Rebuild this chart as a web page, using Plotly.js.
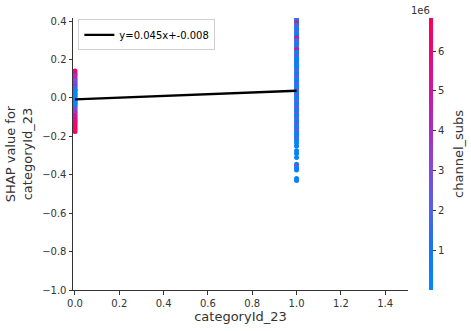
<!DOCTYPE html>
<html>
<head>
<meta charset="utf-8">
<script src="https://cdn.plot.ly/plotly-3.0.1.min.js"></script>
<style>html,body{margin:0;padding:0;background:#fff;}#chart{width:471px;height:331px;}</style>
</head>
<body>
<div id="chart"></div>
<script>
// Feature value 0 group
var shapAt0 = [0.14, 0.13, 0.122, 0.115, 0.105, 0.098, 0.09, 0.082, 0.075, 0.068, 0.06, 0.052, 0.045, 0.038, 0.03, 0.022, 0.015, 0.008, 0.0, -0.008, -0.015, -0.022, -0.03, -0.038, -0.045, -0.052, -0.06, -0.068, -0.075, -0.082, -0.09, -0.098, -0.105, -0.112, -0.12, -0.128, -0.136, -0.145, -0.155, -0.165, -0.175, 0.02, -0.01, 0.04, -0.03];
var subsAt0 = [6.5e6, 6.0e6, 5.5e6, 4.2e6, 3.5e6, 5.0e6, 3.0e6, 2.5e6, 3.8e6, 2.0e6, 4.5e6, 1.5e6, 2.8e6, 1.0e6, 0.5e6, 1.8e6, 0.3e6, 0.2e6, 0.1e6, 0.4e6, 0.2e6, 0.8e6, 1.2e6, 0.5e6, 2.2e6, 1.5e6, 3.2e6, 2.6e6, 4.0e6, 3.5e6, 4.8e6, 5.5e6, 4.5e6, 6.0e6, 5.2e6, 6.3e6, 5.8e6, 6.6e6, 6.2e6, 6.83e6, 6.4e6, 0.1e6, 0.2e6, 0.3e6, 0.15e6];
// Feature value 1 group
var shapAt1 = [0.42, 0.41, 0.40, 0.39, 0.38, 0.37, 0.36, 0.35, 0.34, 0.33, 0.32, 0.31, 0.30, 0.29, 0.28, 0.27, 0.26, 0.25, 0.24, 0.23, 0.22, 0.21, 0.20, 0.19, 0.18, 0.17, 0.16, 0.15, 0.14, 0.13, 0.12, 0.11, 0.10, 0.09, 0.08, 0.07, 0.06, 0.05, 0.04, 0.03, 0.02, 0.01, 0.00, -0.01, -0.02, -0.03, -0.04, -0.05, -0.06, -0.07, -0.08, -0.09, -0.10, -0.11, -0.12, -0.13, -0.14, -0.15, -0.16, -0.17, -0.18, -0.19, -0.20, -0.21, -0.22, -0.235, -0.25, -0.275, -0.29, -0.31, -0.345, -0.355, -0.365, -0.375, -0.42, -0.43];
var subsAt1 = [0.6e6, 2.8e6, 0.4e6, 6.6e6, 0.5e6, 3.0e6, 0.3e6, 0.7e6, 2.6e6, 0.2e6, 0.9e6, 6.2e6, 0.4e6, 3.2e6, 0.3e6, 0.6e6, 2.4e6, 5.9e6, 0.5e6, 0.2e6, 2.9e6, 0.8e6, 0.3e6, 0.5e6, 1.2e6, 0.2e6, 0.6e6, 0.4e6, 2.7e6, 0.3e6, 0.7e6, 3.1e6, 0.2e6, 0.5e6, 0.9e6, 2.5e6, 0.4e6, 0.3e6, 2.8e6, 0.6e6, 0.2e6, 3.0e6, 0.5e6, 0.3e6, 2.6e6, 0.7e6, 0.2e6, 3.3e6, 0.4e6, 0.6e6, 2.9e6, 0.3e6, 0.5e6, 2.4e6, 0.2e6, 0.8e6, 3.1e6, 0.4e6, 0.3e6, 2.7e6, 0.6e6, 0.2e6, 0.5e6, 2.2e6, 0.3e6, 0.4e6, 0.6e6, 0.3e6, 0.5e6, 0.2e6, 0.4e6, 3.0e6, 0.3e6, 0.5e6, 0.2e6, 0.4e6];
// Linear fit
var fitSlope = 0.045;
var fitIntercept = -0.008;
var fitX = [0, 1];
var xTicks = [0, 0.2, 0.4, 0.6, 0.8, 1.0, 1.2, 1.4];
var yTicks = [-1.0, -0.8, -0.6, -0.4, -0.2, 0.0, 0.2, 0.4];
var cbTickVals = [1e6, 2e6, 3e6, 4e6, 5e6, 6e6];
var cbTickText = ['1', '2', '3', '4', '5', '6'];

var redBlue = [
  [0.0, 'rgb(0,138,251)'],
  [0.15, 'rgb(20,118,242)'],
  [0.3, 'rgb(83,97,233)'],
  [0.45, 'rgb(132,72,214)'],
  [0.6, 'rgb(172,44,190)'],
  [0.75, 'rgb(210,20,160)'],
  [0.9, 'rgb(240,5,115)'],
  [1.0, 'rgb(255,0,82)']
];

var allShap = shapAt0.concat(shapAt1);
var allSubs = subsAt0.concat(subsAt1);
var allX = shapAt0.map(function(){return 0;}).concat(shapAt1.map(function(){return 1;}));

var dots = {
  type: 'scatter', mode: 'markers', x: allX, y: allShap, showlegend: false,
  marker: {
    size: 5, color: allSubs, colorscale: redBlue, cmin: 0, cmax: 6.83e6,
    line: {width: 0},
    colorbar: {
      x: 1.0627, xanchor: 'left', xpad: 0, y: 0.5, yanchor: 'middle', ypad: 0,
      len: 1, lenmode: 'fraction', thickness: 4, outlinewidth: 0,
      ticks: 'outside', ticklen: 3.5, tickcolor: '#333', tickwidth: 1,
      tickvals: cbTickVals, ticktext: cbTickText,
      tickfont: {family: 'DejaVu Sans', size: 10, color: '#333'}
    }
  }
};
var fitLine = {
  type: 'scatter', mode: 'lines', x: fitX,
  y: fitX.map(function(v){return fitSlope * v + fitIntercept;}),
  name: 'y=' + fitSlope + 'x+' + fitIntercept,
  line: {color: '#000', width: 2.3}
};

var axisCommon = {
  showgrid: false, zeroline: false, showline: true, linecolor: '#333', linewidth: 1,
  ticks: 'outside', ticklen: 3.5, tickcolor: '#333', tickwidth: 1,
  tickfont: {family: 'DejaVu Sans', size: 10, color: '#333'}
};

var layout = {
  width: 471, height: 331,
  margin: {l: 73, r: 63, t: 18, b: 41},
  paper_bgcolor: '#fff', plot_bgcolor: '#fff',
  font: {family: 'DejaVu Sans', color: '#333'},
  xaxis: Object.assign({}, axisCommon, {
    range: [-0.009, 1.503], tickvals: xTicks, tickformat: '.1f',
    title: {text: 'categoryId_23', font: {family: 'DejaVu Sans', size: 13, color: '#333'}, standoff: 4}
  }),
  yaxis: Object.assign({}, axisCommon, {
    range: [-1.0, 0.4156], tickvals: yTicks, tickformat: '.1f',
    title: {text: 'SHAP value for<br>categoryId_23', font: {family: 'DejaVu Sans', size: 13, color: '#333'}, standoff: 6}
  }),
  legend: {
    x: 0.016, y: 0.995, xanchor: 'left', yanchor: 'top',
    bgcolor: '#fff', bordercolor: '#d0d0d0', borderwidth: 1,
    font: {family: 'DejaVu Sans', size: 10, color: '#000'}
  },
  annotations: [
    {text: '1e6', xref: 'paper', yref: 'paper', x: 1.072, y: 1.0, xanchor: 'right', yanchor: 'bottom', yshift: 0, showarrow: false, font: {family: 'DejaVu Sans', size: 10, color: '#333'}},
    {text: 'channel_subs', xref: 'paper', yref: 'paper', x: 1.149, y: 0.5, xanchor: 'center', yanchor: 'middle', textangle: -90, showarrow: false, font: {family: 'DejaVu Sans', size: 13, color: '#333'}}
  ]
};

Plotly.newPlot('chart', [dots, fitLine], layout, {displayModeBar: false, staticPlot: true});
</script>
</body>
</html>
